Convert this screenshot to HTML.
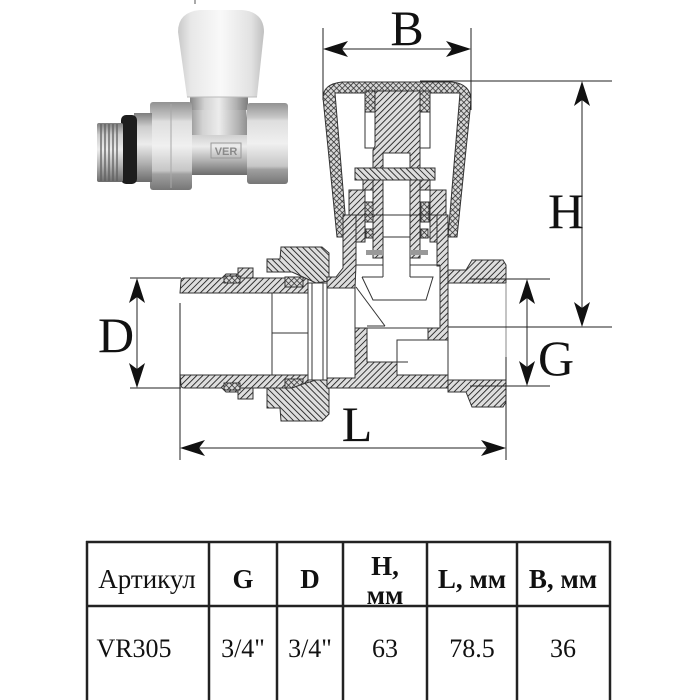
<!DOCTYPE html>
<html><head><meta charset="utf-8">
<style>
html,body{margin:0;padding:0;background:#fff;}
svg{display:block;}
</style></head><body>
<svg width="700" height="700" viewBox="0 0 700 700" xmlns="http://www.w3.org/2000/svg">
<defs>
<pattern id="h" width="4.3" height="4.3" patternUnits="userSpaceOnUse" patternTransform="rotate(45)">
<rect width="4.3" height="4.3" fill="#dedede"/>
<line x1="0" y1="0" x2="0" y2="4.3" stroke="#1a1a1a" stroke-width="1.7"/>
</pattern>
<pattern id="h2" width="4.3" height="4.3" patternUnits="userSpaceOnUse" patternTransform="rotate(-45)">
<rect width="4.3" height="4.3" fill="#dedede"/>
<line x1="0" y1="0" x2="0" y2="4.3" stroke="#1a1a1a" stroke-width="1.7"/>
</pattern>
<pattern id="x" width="4" height="4" patternUnits="userSpaceOnUse" patternTransform="rotate(45)">
<rect width="4" height="4" fill="#d8d8d8"/>
<line x1="0" y1="0" x2="0" y2="4" stroke="#222" stroke-width="1.4"/>
<line x1="0" y1="0" x2="4" y2="0" stroke="#222" stroke-width="1.4"/>
</pattern>
<linearGradient id="my" x1="0" y1="0" x2="0" y2="1">
<stop offset="0" stop-color="#7e7e7e"/><stop offset="0.2" stop-color="#cdcdcd"/>
<stop offset="0.45" stop-color="#ececec"/><stop offset="0.72" stop-color="#b2b2b2"/>
<stop offset="1" stop-color="#6c6c6c"/></linearGradient>
<linearGradient id="mx" x1="0" y1="0" x2="1" y2="0">
<stop offset="0" stop-color="#858585"/><stop offset="0.25" stop-color="#d2d2d2"/>
<stop offset="0.5" stop-color="#ececec"/><stop offset="0.8" stop-color="#b0b0b0"/>
<stop offset="1" stop-color="#7c7c7c"/></linearGradient>
<linearGradient id="kn" x1="0" y1="0" x2="1" y2="0">
<stop offset="0" stop-color="#c9c9c9"/><stop offset="0.15" stop-color="#e8e8e8"/>
<stop offset="0.5" stop-color="#f9f9f9"/><stop offset="0.85" stop-color="#e2e2e2"/>
<stop offset="1" stop-color="#c0c0c0"/></linearGradient>
<linearGradient id="hx" x1="0" y1="0" x2="0" y2="1">
<stop offset="0" stop-color="#929292"/><stop offset="0.18" stop-color="#c8c8c8"/>
<stop offset="0.22" stop-color="#dedede"/><stop offset="0.5" stop-color="#f0f0f0"/>
<stop offset="0.78" stop-color="#c6c6c6"/><stop offset="0.82" stop-color="#a0a0a0"/>
<stop offset="1" stop-color="#767676"/></linearGradient>
</defs>

<!-- ============ PHOTO ============ -->
<line x1="195" y1="0" x2="195" y2="4" stroke="#555" stroke-width="1"/>
<rect x="186" y="123" width="66" height="52" fill="url(#my)"/>
<path d="M192,108 L246,108 L248,128 L252,135 L186,135 L190,128 Z" fill="url(#mx)"/>
<rect x="190" y="96" width="58" height="14" rx="2" fill="url(#mx)"/>
<path d="M178,32 Q178,12 200,10 L242,10 Q264,12 264,32 L257,97 L187,97 Z" fill="url(#kn)"/>
<path d="M187,97 L257,97" stroke="#bbb" stroke-width="1"/>
<rect x="247" y="103" width="41" height="81" rx="3" fill="url(#hx)"/>
<rect x="150" y="102" width="42" height="88" rx="3" fill="url(#hx)"/>
<line x1="171" y1="104" x2="171" y2="188" stroke="#a8a8a8" stroke-width="1"/>
<rect x="134" y="113" width="18" height="69" fill="url(#my)"/>
<rect x="121" y="115" width="16" height="69" rx="5" fill="#1d1d1d"/>
<rect x="97" y="123" width="26" height="59" rx="2" fill="url(#my)"/>
<g stroke="#5e5e5e" stroke-width="1.3">
<line x1="101" y1="124" x2="101" y2="181"/><line x1="105" y1="124" x2="105" y2="181"/>
<line x1="109" y1="124" x2="109" y2="181"/><line x1="113" y1="124" x2="113" y2="181"/>
<line x1="117" y1="124" x2="117" y2="181"/>
</g>
<rect x="211" y="143" width="30" height="15" fill="none" stroke="#999" stroke-width="1"/>
<text x="226" y="155" font-family="Liberation Sans, sans-serif" font-size="11" font-weight="bold" fill="#8a8a8a" text-anchor="middle">VER</text>

<!-- ============ DRAWING ============ -->
<g stroke="#333" stroke-width="1">
<path fill-rule="evenodd" fill="url(#x)" d="M323,98 Q323,84 342,82 L452,82 Q471,84 471,101 L457,237 L337,237 Z M335,93 L460,93 L448,237 L347,237 Z"/>
<rect x="365" y="91" width="10" height="21" fill="url(#x)"/>
<rect x="420" y="91" width="10" height="21" fill="url(#x)"/>
<rect x="365" y="112" width="12" height="36" fill="none"/>
<rect x="418" y="112" width="12" height="36" fill="none"/>
<path fill="url(#h)" d="M375,91 L420,91 L420,258 L410,258 L410,153 L383,153 L383,258 L373,258 L373,150 L375,146 Z"/>
<rect x="355" y="168" width="80" height="12" fill="url(#h2)"/>
<rect x="363" y="180" width="10" height="10" fill="url(#h)"/>
<rect x="420" y="180" width="10" height="10" fill="url(#h)"/>
<path fill="url(#h)" d="M349,190 L365,190 L365,242 L356,242 L349,236 Z"/>
<path fill="url(#h)" d="M430,190 L446,190 L446,236 L439,242 L430,242 Z"/>
<rect x="365" y="202" width="8" height="20" fill="url(#x)"/>
<rect x="421" y="202" width="8" height="20" fill="url(#x)"/>
<rect x="366" y="229" width="7" height="9" fill="url(#x)"/>
<rect x="421" y="229" width="7" height="9" fill="url(#x)"/>
<rect x="366" y="250" width="17" height="5" fill="#999" stroke="none"/>
<rect x="410" y="250" width="18" height="5" fill="#999" stroke="none"/>

<path fill="url(#h)" d="M181,281 Q181,278 184,278 L222,278 L226,274 L242,274 L246,278 L308,278 L308,293 L180,293 Z"/>
<path fill="url(#h)" d="M180,375 L308,375 L308,388 L246,388 L242,392 L226,392 L222,388 L184,388 Q181,388 181,385 Z"/>
<rect x="238" y="268" width="15" height="10" fill="url(#h)"/>
<rect x="238" y="388" width="15" height="11" fill="url(#h)"/>
<rect x="224" y="276" width="16" height="7" fill="url(#x)"/>
<rect x="224" y="383" width="16" height="7" fill="url(#x)"/>
<rect x="285" y="277" width="18" height="10" fill="url(#x)"/>
<rect x="285" y="379" width="18" height="10" fill="url(#x)"/>
<line x1="272" y1="293" x2="272" y2="375"/>
<line x1="272" y1="333" x2="308" y2="333"/>

<path fill="url(#h2)" d="M267,259 L280,259 L281,247 L322,247 L329,253 L329,281 L316,283 L303,277 L292,272 L267,272 Z"/>
<path fill="url(#h2)" d="M267,388 L292,388 L303,384 L316,380 L329,380 L329,414 L322,421 L281,421 L280,408 L267,408 Z"/>
<rect x="308" y="283" width="19" height="97" fill="#fff"/>
<line x1="312" y1="283" x2="312" y2="380"/>
<line x1="323" y1="283" x2="323" y2="380"/>

<path fill="url(#h)" d="M327,277 L336,277 L343,268 L343,215 L356,215 L356,265 L355,288 L327,288 Z"/>
<path fill="url(#h)" d="M437,215 L448,215 L448,340 L428,340 L428,328 L440,328 L440,266 L437,266 Z"/>
<path fill="url(#h)" d="M355,328 L367,328 L367,362 L397,362 L397,375 L448,375 L448,388 L327,388 L327,378 L355,378 Z"/>
<line x1="343" y1="215" x2="448" y2="215"/>
<line x1="355" y1="288" x2="355" y2="328"/>
<line x1="355" y1="328" x2="440" y2="328"/>
<rect x="397" y="340" width="51" height="35" fill="none"/>
<line x1="397" y1="362" x2="408" y2="362"/>
<line x1="356" y1="265" x2="383" y2="265"/>
<line x1="410" y1="265" x2="440" y2="265"/>
<line x1="383" y1="258" x2="383" y2="277"/>
<line x1="410" y1="258" x2="410" y2="277"/>
<path fill="#fff" d="M362,277 L383,277 M410,277 L433,277 L426,300 L373,300 L362,277"/>
<line x1="356" y1="287" x2="385" y2="326"/>
<line x1="367" y1="326" x2="385" y2="326"/>

<path fill="url(#h)" d="M448,270 L466,270 L472,260 L503,260 L506,265 L506,283 L448,283 Z"/>
<path fill="url(#h)" d="M448,380 L506,380 L506,402 L503,407 L472,407 L466,392 L448,392 Z"/>
<line x1="448" y1="283" x2="448" y2="380"/>
<line x1="506" y1="283" x2="506" y2="357" stroke="#888"/>
</g>

<!-- ============ DIMENSIONS ============ -->
<g stroke="#222" stroke-width="1" fill="none">
<line x1="323" y1="28" x2="323" y2="100"/>
<line x1="471" y1="28" x2="471" y2="110"/>
<line x1="330" y1="49" x2="464" y2="49"/>
<line x1="420" y1="81" x2="612" y2="81"/>
<line x1="448" y1="327" x2="612" y2="327"/>
<line x1="582" y1="88" x2="582" y2="320"/>
<line x1="130" y1="278" x2="181" y2="278"/>
<line x1="130" y1="388" x2="181" y2="388"/>
<line x1="137" y1="285" x2="137" y2="381"/>
<line x1="180" y1="303" x2="180" y2="460"/>
<line x1="506" y1="357" x2="506" y2="460"/>
<line x1="187" y1="448" x2="499" y2="448"/>
<line x1="470" y1="279" x2="550" y2="279"/>
<line x1="470" y1="386" x2="550" y2="386"/>
<line x1="527" y1="286" x2="527" y2="379"/>
</g>
<g fill="#111">
<path d="M323,49 L348,41 L342,49 L348,57 Z"/>
<path d="M471,49 L446,41 L452,49 L446,57 Z"/>
<path d="M582,81 L574,106 L582,100 L590,106 Z"/>
<path d="M582,327 L574,302 L582,308 L590,302 Z"/>
<path d="M137,278 L129,303 L137,297 L145,303 Z"/>
<path d="M137,388 L129,363 L137,369 L145,363 Z"/>
<path d="M180,448 L205,440 L199,448 L205,456 Z"/>
<path d="M506,448 L481,440 L487,448 L481,456 Z"/>
<path d="M527,279 L519,304 L527,298 L535,304 Z"/>
<path d="M527,386 L519,361 L527,367 L535,361 Z"/>
</g>
<g font-family="Liberation Serif, serif" font-size="50" fill="#111" text-anchor="middle">
<text x="407" y="45">B</text>
<text x="566" y="228">H</text>
<text x="116" y="352">D</text>
<text x="357" y="441">L</text>
<text x="556" y="375">G</text>
</g>

<!-- ============ TABLE ============ -->
<g stroke="#222" stroke-width="2.5">
<line x1="86" y1="542" x2="611" y2="542"/>
<line x1="86" y1="606" x2="611" y2="606"/>
<line x1="87" y1="541" x2="87" y2="700"/>
<line x1="209" y1="541" x2="209" y2="700"/>
<line x1="277" y1="541" x2="277" y2="700"/>
<line x1="343" y1="541" x2="343" y2="700"/>
<line x1="427" y1="541" x2="427" y2="700"/>
<line x1="517" y1="541" x2="517" y2="700"/>
<line x1="610" y1="541" x2="610" y2="700"/>
</g>
<g font-family="Liberation Serif, 'Noto Serif CJK SC', serif" fill="#111" text-anchor="middle">
<text x="147" y="588" font-size="27">Артикул</text>
<text x="243" y="588" font-size="27" font-weight="bold">G</text>
<text x="310" y="588" font-size="27" font-weight="bold">D</text>
<text x="385" y="575" font-size="27" font-weight="bold">H,</text>
<text x="385" y="604" font-size="27" font-weight="bold">мм</text>
<text x="472" y="588" font-size="27" font-weight="bold">L, мм</text>
<text x="563" y="588" font-size="27" font-weight="bold">B, мм</text>
<text x="134" y="657" font-size="26">VR305</text>
<text x="243" y="657" font-size="26">3/4"</text>
<text x="310" y="657" font-size="26">3/4"</text>
<text x="385" y="657" font-size="26">63</text>
<text x="472" y="657" font-size="26">78.5</text>
<text x="563" y="657" font-size="26">36</text>
</g>
</svg>
</body></html>
